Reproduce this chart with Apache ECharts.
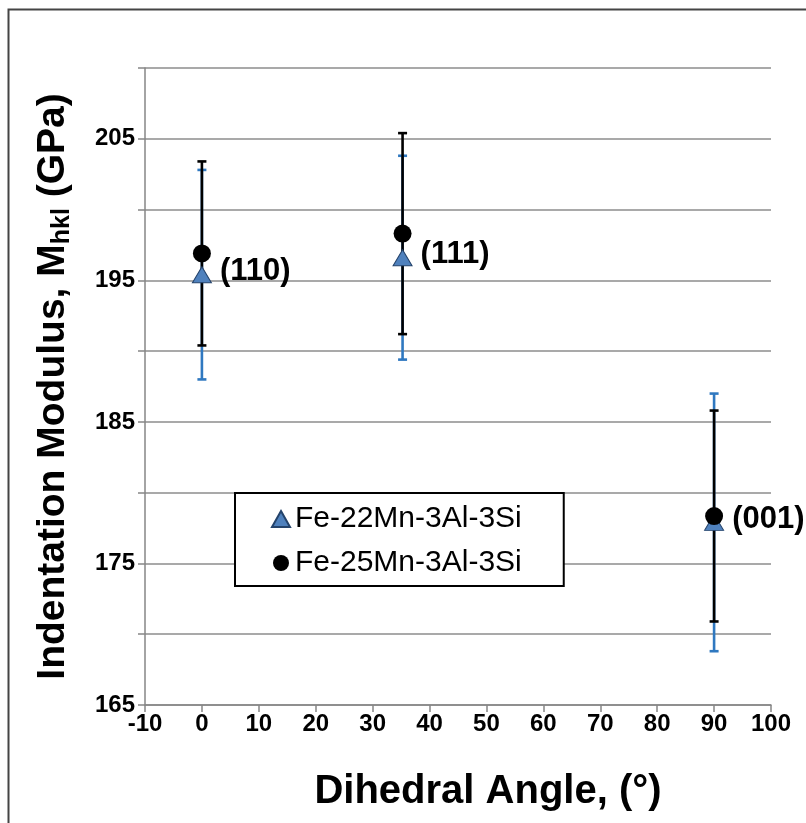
<!DOCTYPE html>
<html>
<head>
<meta charset="utf-8">
<script src="https://cdn.jsdelivr.net/npm/echarts@6/dist/echarts.min.js"></script>
<style>
html,body{margin:0;padding:0;background:#fff;}
#chart{width:806px;height:823px;}
</style>
</head>
<body>
<div id="chart"></div>
<script>
// ---- data ----
var angles = [0, 35.26, 90];
var planes = ['(110)', '(111)', '(001)'];
var fe22Mean = [195.4, 196.6, 177.9];
var fe22Err = [7.4, 7.2, 9.1];
var fe25Mean = [196.9, 198.3, 178.35];
var fe25Err = [6.5, 7.1, 7.45];
var seriesNames = ['Fe-22Mn-3Al-3Si', 'Fe-25Mn-3Al-3Si'];

var FONT = "'Liberation Sans', Arial, sans-serif";

function pts(mean) {
  return angles.map(function (a, i) { return [a, mean[i]]; });
}
function errs(mean, err) {
  return angles.map(function (a, i) { return [a, mean[i] - err[i], mean[i] + err[i]]; });
}
function errRender(color) {
  return function (params, api) {
    var x = api.value(0);
    var lo = api.coord([x, api.value(1)]);
    var hi = api.coord([x, api.value(2)]);
    var hw = 4.5;
    var st = { stroke: color, lineWidth: 2.6 };
    return {
      type: 'group',
      children: [
        { type: 'line', shape: { x1: lo[0], y1: lo[1], x2: hi[0], y2: hi[1] }, style: st },
        { type: 'line', shape: { x1: lo[0] - hw, y1: lo[1], x2: lo[0] + hw, y2: lo[1] }, style: st },
        { type: 'line', shape: { x1: hi[0] - hw, y1: hi[1], x2: hi[0] + hw, y2: hi[1] }, style: st }
      ]
    };
  };
}

var chart = echarts.init(document.getElementById('chart'), null, { renderer: 'canvas' });
var option = {
  backgroundColor: '#fff',
  animation: false,
  textStyle: { fontFamily: FONT },
  graphic: [{
    type: 'rect', left: 6, top: 7, z: 0,
    shape: { width: 840, height: 860 },
    style: { fill: 'none', stroke: '#444', lineWidth: 2 }
  }],
  grid: { left: 145, top: 68, right: 35, bottom: 118 },
  legend: {
    orient: 'vertical',
    left: 235, top: 493,
    padding: [11, 42, 8, 36],
    itemGap: 14,
    itemWidth: 18, itemHeight: 16,
    borderColor: '#000', borderWidth: 2,
    backgroundColor: '#fff',
    textStyle: { fontFamily: FONT, fontSize: 30, color: '#000' },
    data: seriesNames
  },
  xAxis: {
    type: 'value', min: -10, max: 100, interval: 10,
    name: 'Dihedral Angle, (°)',
    nameLocation: 'middle', nameGap: 67,
    nameTextStyle: { fontFamily: FONT, fontSize: 40, fontWeight: 'bold', color: '#000', padding: [0, 0, 0, 60] },
    axisLine: { show: true, onZero: false, lineStyle: { color: '#868686', width: 1.5 } },
    axisTick: { show: true, length: 7, lineStyle: { color: '#868686', width: 1.5 } },
    axisLabel: { fontFamily: FONT, fontSize: 24, fontWeight: 'bold', color: '#000', margin: 7 },
    splitLine: { show: false }
  },
  yAxis: {
    type: 'value', min: 165, max: 210, interval: 5,
    name: '{m|Indentation Modulus, M}{s|hkl}{m| (GPa)}',
    nameLocation: 'middle', nameGap: 70,
    nameTextStyle: {
      rich: {
        m: { fontFamily: FONT, fontSize: 39, fontWeight: 'bold', color: '#000', lineHeight: 44 },
        s: { fontFamily: FONT, fontSize: 25, fontWeight: 'bold', color: '#000', lineHeight: 24, verticalAlign: 'bottom' }
      }
    },
    axisLine: { show: true, onZero: false, lineStyle: { color: '#868686', width: 1.5 } },
    axisTick: { show: true, length: 7, lineStyle: { color: '#868686', width: 1.5 } },
    axisLabel: {
      fontFamily: FONT, fontSize: 24, fontWeight: 'bold', color: '#000', margin: 10,
      formatter: function (v) { return ((v - 165) % 10 === 0) ? String(v) : ''; }
    },
    splitLine: { show: true, lineStyle: { color: '#8c8c8c', width: 1.5 } }
  },
  series: [
    {
      type: 'custom', name: seriesNames[0] + ' err', z: 2,
      renderItem: errRender('#2f78c0'),
      encode: { x: 0, y: [1, 2] },
      data: errs(fe22Mean, fe22Err),
      silent: true
    },
    {
      type: 'custom', name: seriesNames[1] + ' err', z: 3,
      renderItem: errRender('#000'),
      encode: { x: 0, y: [1, 2] },
      data: errs(fe25Mean, fe25Err),
      silent: true
    },
    {
      type: 'scatter', name: seriesNames[0], z: 4,
      symbol: 'triangle', symbolSize: [19, 16],
      itemStyle: { color: '#4F81BD', borderColor: '#24436b', borderWidth: 1, opacity: 1 },
      label: {
        show: true, position: 'right', distance: 8, offset: [0, -3],
        fontFamily: FONT, fontSize: 31, fontWeight: 'bold', color: '#000',
        formatter: function (p) { return planes[p.dataIndex]; }
      },
      data: pts(fe22Mean)
    },
    {
      type: 'scatter', name: seriesNames[1], z: 5,
      symbol: 'circle', symbolSize: 18,
      itemStyle: { color: '#000', opacity: 1 },
      data: pts(fe25Mean)
    }
  ]
};
chart.setOption(option);
</script>
</body>
</html>
